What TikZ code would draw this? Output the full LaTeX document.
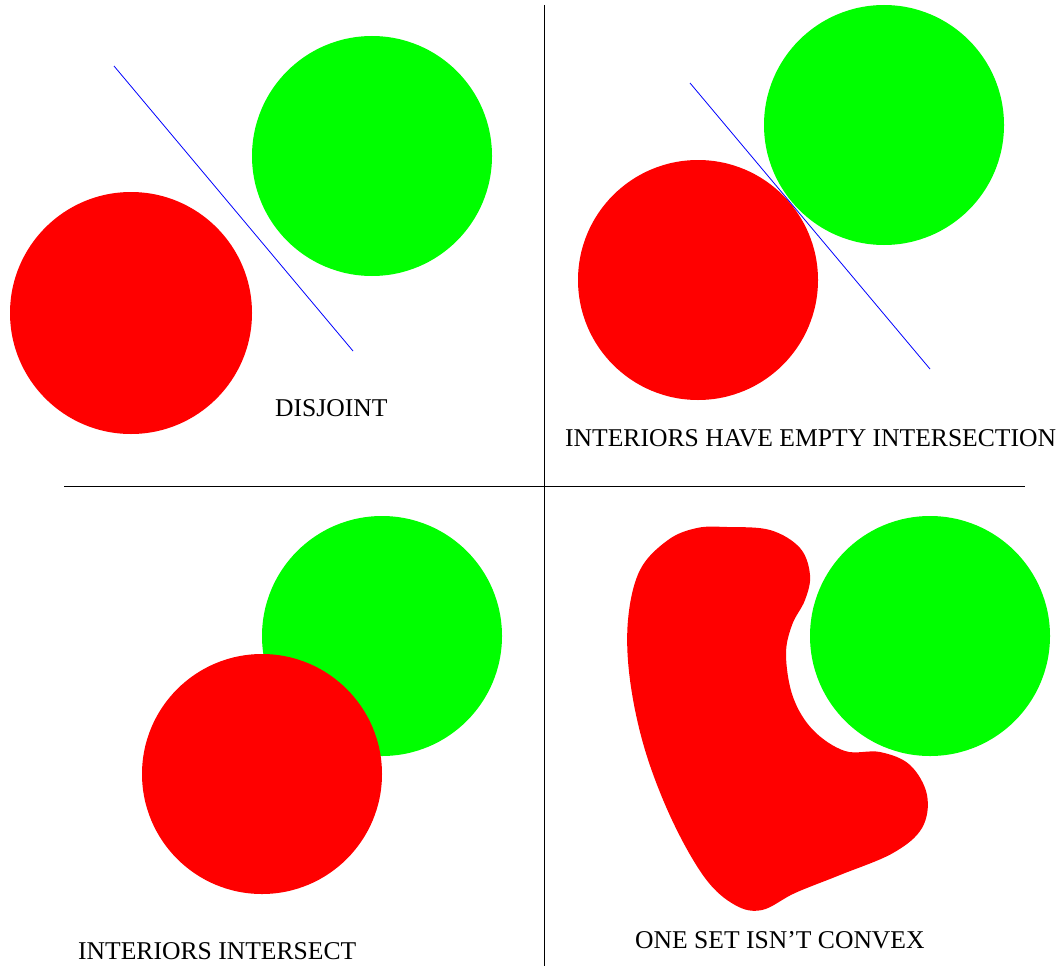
\documentclass[tikz,border=0pt]{standalone}
\usepackage{fontspec}
\setmainfont{Liberation Serif}
\usepackage{xcolor}
\usepackage{tikz}

\begin{document}
\begin{tikzpicture}[
  x=1pt, y=-1pt,
  redset/.style={fill=red},
  greenset/.style={fill=green},
  sepline/.style={blue, line width=0.8pt},
  axis/.style={black, line width=1pt},
  lbl/.style={anchor=base west, inner sep=0pt, font=\fontsize{25.6}{30}\selectfont}
]
\useasboundingbox (0,0) rectangle (1057,966);

% quadrant dividers
\draw[axis] (544,5) -- (544,966);
\draw[axis] (64,486) -- (1025,486);

% top left: disjoint
\fill[redset] (131,313) circle (121);
\fill[greenset] (372,156) circle (120);
\draw[sepline] (114,66) -- (353,351);
\node[lbl] (disj) at (275,416) {DISJOINT};

% top right: touching
\fill[redset] (698,280) circle (120);
\fill[greenset] (884,125) circle (120);
\draw[sepline] (690,83) -- (930,369);
\node[lbl] (empty) at (565,446) {INTERIORS HAVE EMPTY INTERSECTION};

% bottom left: overlapping
\fill[greenset] (382,636) circle (120);
\fill[redset] (262,774) circle (120);
\node[lbl] (inter) at (78,959) {INTERIORS INTERSECT};

% bottom right: non convex set
\fill[greenset] (930,636) circle (120);
\fill[redset] plot[smooth cycle, tension=0.6] coordinates {
  (727,527) (770,530) (800,548) (810,575) (805,600)
  (792,625) (786,655) (793,697) (813,730) (845,751)
  (880,752) (910,765) (927,795) (922,828) (893,853)
  (840,875) (795,893) (762,910) (735,905) (705,878)
  (672,820) (645,750) (630,680) (628,620) (640,570)
  (668,540) (697,528)};
\node[lbl] (nonconv) at (635,948) {ONE SET ISN'T CONVEX};
\end{tikzpicture}
\end{document}
